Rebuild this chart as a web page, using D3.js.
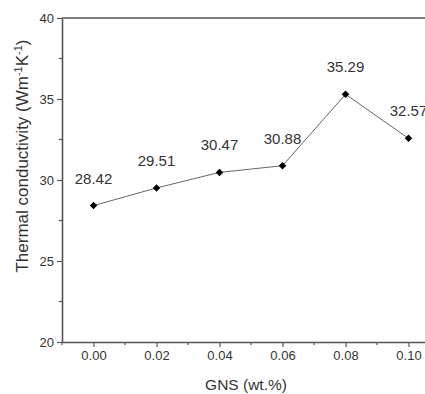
<!DOCTYPE html>
<html>
<head>
<meta charset="utf-8">
<script src="https://cdn.jsdelivr.net/npm/d3@7"></script>
<style>
  body { margin: 0; background: #fff; }
  svg { display: block; font-family: Arial, "Liberation Sans", sans-serif; }
</style>
</head>
<body>
<div id="chart"></div>
<script>
// data
var gns = [0.00, 0.02, 0.04, 0.06, 0.08, 0.10];
var conductivity = [28.42, 29.51, 30.47, 30.88, 35.29, 32.57];
var xTicks = [0.00, 0.02, 0.04, 0.06, 0.08, 0.10];
var yTicks = [20, 25, 30, 35, 40];

var W = 425, H = 394;
var margin = {top: 18, left: 62, bottom: 52};

var svg = d3.select("#chart").append("svg")
    .attr("width", W)
    .attr("height", H);

var x = d3.scaleLinear()
    .domain([-0.01, 0.11])
    .range([margin.left, 440]);

var y = d3.scaleLinear()
    .domain([20, 40])
    .range([H - margin.bottom, margin.top]);

var axisColor = "#555";

// top frame line
svg.append("line")
    .attr("x1", x(-0.01)).attr("x2", x(0.11))
    .attr("y1", y(40)).attr("y2", y(40))
    .attr("stroke", axisColor).attr("stroke-width", 1.6);

// minor ticks
var xMinor = [-0.01, 0.01, 0.03, 0.05, 0.07, 0.09];
svg.append("g").selectAll("line").data(xMinor).enter().append("line")
    .attr("x1", d => x(d)).attr("x2", d => x(d))
    .attr("y1", y(20)).attr("y2", y(20) + 3)
    .attr("stroke", axisColor).attr("stroke-width", 1.2);
var yMinor = [22.5, 27.5, 32.5, 37.5];
svg.append("g").selectAll("line").data(yMinor).enter().append("line")
    .attr("x1", x(-0.01) - 3).attr("x2", x(-0.01))
    .attr("y1", d => y(d)).attr("y2", d => y(d))
    .attr("stroke", axisColor).attr("stroke-width", 1.2);

// x axis
var xAxis = svg.append("g")
    .attr("transform", "translate(0," + y(20) + ")")
    .call(d3.axisBottom(x).tickValues(xTicks).tickFormat(d3.format(".2f")).tickSize(5).tickSizeOuter(0));

// y axis
var yAxis = svg.append("g")
    .attr("transform", "translate(" + x(-0.01) + ",0)")
    .call(d3.axisLeft(y).tickValues(yTicks).tickSize(5).tickSizeOuter(0));

[xAxis, yAxis].forEach(function(a) {
    a.select(".domain").attr("stroke", axisColor).attr("stroke-width", 1.6);
    a.selectAll(".tick line").attr("stroke", axisColor).attr("stroke-width", 1.2);
    a.selectAll(".tick text").attr("fill", "#333").style("font-size", "13px")
        .style("font-family", "Arial, 'Liberation Sans', sans-serif");
});
xAxis.selectAll(".tick text").attr("dy", null).attr("y", 18);
yAxis.selectAll(".tick text").attr("x", -8);

// line
svg.append("path")
    .datum(gns)
    .attr("fill", "none")
    .attr("stroke", "#666")
    .attr("stroke-width", 1)
    .attr("d", d3.line()
        .x(function(d) { return x(d); })
        .y(function(d, i) { return y(conductivity[i]); }));

// diamond markers
svg.append("g").selectAll("path").data(gns).enter().append("path")
    .attr("transform", (d, i) => "translate(" + x(d) + "," + y(conductivity[i]) + ")")
    .attr("d", d3.symbol().type(d3.symbolDiamond2).size(36))
    .attr("fill", "#000");

// value labels
svg.append("g").selectAll("text").data(gns).enter().append("text")
    .attr("x", d => x(d))
    .attr("y", (d, i) => y(conductivity[i]) - 22)
    .attr("text-anchor", "middle")
    .attr("fill", "#333")
    .style("font-size", "15px")
    .text((d, i) => conductivity[i].toFixed(2));

// axis titles
svg.append("text")
    .attr("x", 246)
    .attr("y", 390)
    .attr("text-anchor", "middle")
    .attr("fill", "#333")
    .style("font-size", "15.5px")
    .text("GNS (wt.%)");

var yt = svg.append("text")
    .attr("transform", "translate(28,156) rotate(-90)")
    .attr("text-anchor", "middle")
    .attr("fill", "#333")
    .style("font-size", "17px");
yt.append("tspan").text("Thermal conductivity (Wm");
yt.append("tspan").attr("dy", -6).style("font-size", "11px").text("-1");
yt.append("tspan").attr("dy", 6).text("K");
yt.append("tspan").attr("dy", -6).style("font-size", "11px").text("-1");
yt.append("tspan").attr("dy", 6).text(")");
</script>
</body>
</html>
